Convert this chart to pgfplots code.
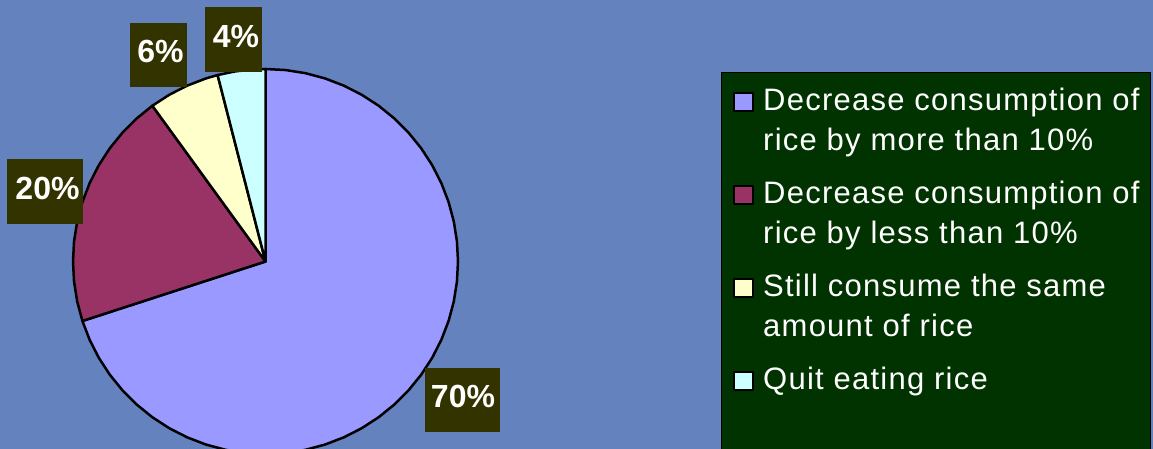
\documentclass[border=0pt]{standalone}
\usepackage{fontspec}
\setmainfont{Liberation Sans}
\newfontfamily\legfamily[LetterSpace=4]{Liberation Sans}
\usepackage{pgfplots}
\pgfplotsset{compat=1.18}
\usepgfplotslibrary{polar}
\definecolor{bgblue}{RGB}{100,130,190}
\definecolor{leggreen}{RGB}{0,51,0}
\definecolor{lblbox}{RGB}{51,51,0}
\definecolor{sA}{RGB}{153,153,255}
\definecolor{sB}{RGB}{153,51,102}
\definecolor{sC}{RGB}{255,255,204}
\definecolor{sD}{RGB}{204,255,255}
\newcommand{\legfont}{\legfamily\fontsize{31}{40}\selectfont}
\newcommand{\lblfont}{\bfseries\fontsize{32}{38}\selectfont}
\begin{document}
\begin{tikzpicture}[x=1pt,y=1pt]
\useasboundingbox (0,0) rectangle (1153,449);
\clip (0,0) rectangle (1153,449);
\fill[bgblue] (0,0) rectangle (1153,449);
\filldraw[fill=leggreen,draw=black,line width=1pt] (721,-10) rectangle (1150,376);
\begin{axis}[
  at={(265.5pt,187.5pt)}, anchor=origin,
  width=385pt, height=385pt, scale only axis,
  xmin=-1, xmax=1, ymin=-1, ymax=1,
  hide axis, clip=false,
  legend image code/.code={\path[draw=none,fill=none] (0pt,-52pt) -- (0pt,28pt);\draw[#1,draw=black,line width=2pt] (0pt,-1pt) rectangle (19pt,17pt);},
  legend style={at={(1.7143,0.9662)}, anchor=north west, draw=none, fill=none,
    inner sep=0pt, font=\legfont, text=white, row sep=13pt, column sep=9pt,
    nodes={inner sep=0pt, text height=28pt, text depth=52pt}, cells={anchor=base west}},
]
\addplot[data cs=polar, fill=sA, draw=black, line width=2.5pt, line join=round] coordinates {
(0,0) (90,1) (84,1) (78,1) (72,1) (66,1) (60,1) (54,1) (48,1) (42,1) (36,1) (30,1) (24,1) (18,1) (12,1) (6,1) (0,1)
(-6,1) (-12,1) (-18,1) (-24,1) (-30,1) (-36,1) (-42,1) (-48,1) (-54,1) (-60,1) (-66,1) (-72,1) (-78,1) (-84,1) (-90,1)
(-96,1) (-102,1) (-108,1) (-114,1) (-120,1) (-126,1) (-132,1) (-138,1) (-144,1) (-150,1) (-156,1) (-162,1)
} -- cycle;
\addlegendentry{\begin{tabular}[t]{@{}l@{}}Decrease consumption of\\rice by more than 10\%\end{tabular}}
\addplot[data cs=polar, fill=sB, draw=black, line width=2.5pt, line join=round] coordinates {
(0,0) (-162,1) (-168,1) (-174,1) (-180,1) (-186,1) (-192,1) (-198,1) (-204,1) (-210,1) (-216,1) (-222,1) (-228,1) (-234,1)
} -- cycle;
\addlegendentry{\begin{tabular}[t]{@{}l@{}}Decrease consumption of\\rice by less than 10\%\end{tabular}}
\addplot[data cs=polar, fill=sC, draw=black, line width=2.5pt, line join=round] coordinates {
(0,0) (-234,1) (-240,1) (-246,1) (-252,1) (-255.6,1)
} -- cycle;
\addlegendentry{\begin{tabular}[t]{@{}l@{}}Still consume the same\\amount of rice\end{tabular}}
\addplot[data cs=polar, fill=sD, draw=black, line width=2.5pt, line join=round] coordinates {
(0,0) (-255.6,1) (-261,1) (-267,1) (-270,1)
} -- cycle;
\addlegendentry{\begin{tabular}[t]{@{}l@{}}Quit eating rice\end{tabular}}
\end{axis}
\fill[lblbox] (425,17) rectangle (500,81);
\node[text=white,font=\lblfont,inner sep=0pt] at (463,52.5) {70\%};
\fill[lblbox] (7,225) rectangle (83,290);
\node[text=white,font=\lblfont,inner sep=0pt] at (47.5,260.7) {20\%};
\fill[lblbox] (130,362) rectangle (187,426);
\node[text=white,font=\lblfont,inner sep=0pt] at (160.5,397.3) {6\%};
\fill[lblbox] (205,377) rectangle (262,442);
\node[text=white,font=\lblfont,inner sep=0pt] at (236,412.3) {4\%};
\end{tikzpicture}
\end{document}
